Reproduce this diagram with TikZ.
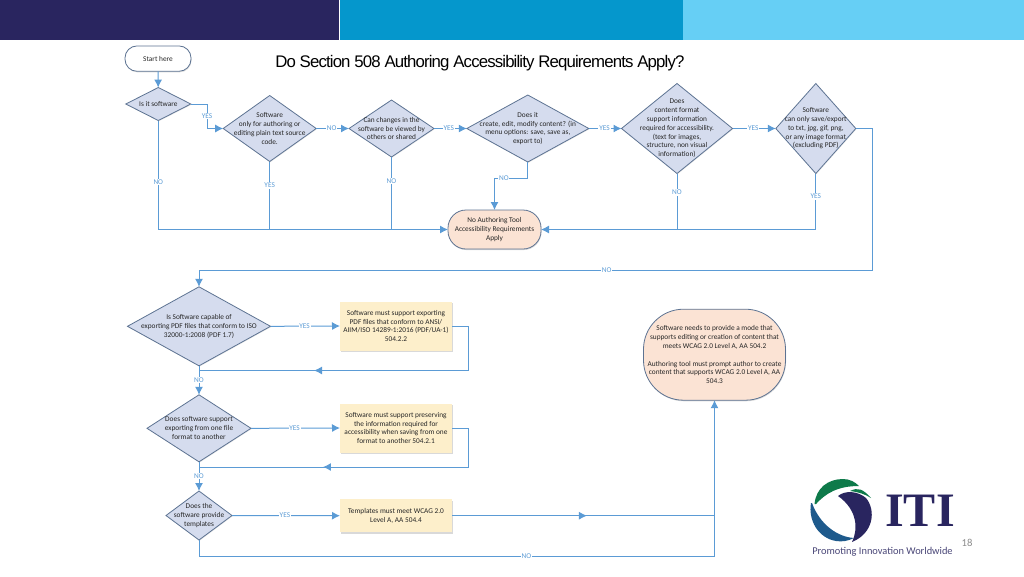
\documentclass[tikz,border=0pt]{standalone}
\usepackage{fontspec}
\setmainfont{Carlito}
\newfontfamily\titlefont[LetterSpace=-5.1]{Liberation Sans}
\newfontfamily\itifont{Liberation Serif}
\usetikzlibrary{shapes.geometric,shadows,arrows.meta,decorations.markings}
\definecolor{flowline}{HTML}{5B9BD5}
\definecolor{flowedge}{HTML}{5D7392}
\definecolor{flowfill}{HTML}{D5DCEE}
\definecolor{notefill}{HTML}{FDEFCB}
\definecolor{endfill}{HTML}{FBE3D4}
\definecolor{itinavy}{HTML}{29255F}
\definecolor{barmid}{HTML}{0597CC}
\definecolor{barlight}{HTML}{66CFF5}
\definecolor{itigreen}{HTML}{0E7A4A}
\definecolor{itiblue}{HTML}{1E5A8C}
\tikzset{
	conn/.style={draw=flowline,line width=0.75pt},
	arr/.style={conn,-{Latex[length=6pt,width=6pt]}},
	midarr/.style={conn,postaction={decorate},decoration={markings,mark=at position #1 with {\arrow{Latex[length=6pt,width=6pt]}}}},
	lab/.style={fill=white,inner sep=0.6pt,text=flowline,font=\fontsize{5.5}{6.6}\selectfont},
	txt/.style={align=center,inner sep=0pt,text=black!85,font=\fontsize{5.5}{6.6}\selectfont},
	decision/.style={diamond,draw=flowedge,fill=flowfill,line width=0.6pt,inner sep=0pt,outer sep=0pt,drop shadow={shadow xshift=0.4pt,shadow yshift=-0.6pt,opacity=0.2}},
	notebox/.style={rectangle,fill=notefill,inner sep=0pt,outer sep=0pt,txt,drop shadow={shadow xshift=0.4pt,shadow yshift=-1pt,opacity=0.3}},
	endbox/.style={rectangle,draw=flowedge,fill=endfill,line width=0.6pt,inner sep=0pt,outer sep=0pt,txt,drop shadow={shadow xshift=0.4pt,shadow yshift=-0.8pt,opacity=0.3}},
}
\begin{document}
\begin{tikzpicture}[x=0.75pt,y=-0.75pt]
	\useasboundingbox (0,0) rectangle (1024,576);
	% top bar
	\fill[itinavy] (0,0) rectangle (339,40);
	\fill[barmid] (339.5,0) rectangle (683,40);
	\fill[barlight] (683,0) rectangle (1024,40);
	\node[anchor=west,inner sep=0pt,font=\titlefont\fontsize{12.6}{14}\selectfont] (title) at (275,63.5) {Do Section 508 Authoring Accessibility Requirements Apply?};
	% upper row
	\node[endbox,fill=white,rounded corners=9pt,minimum width=49.5pt,minimum height=19pt] (start) at (158,58.6) {Start here};
	\node[decision,minimum width=48.75pt,minimum height=24.75pt,label={[txt]center:Is it software}] (soft) at (158.3,104) {};
	\node[decision,minimum width=69.75pt,minimum height=49.5pt,label={[txt]center:Software\\only for authoring or\\editing plain text source\\code.}] (plain) at (269.7,128.5) {};
	\node[decision,minimum width=63.75pt,minimum height=42.75pt,label={[txt]center:Can changes in the\\software be viewed by\\others or shared}] (view) at (391.5,128.5) {};
	\node[decision,minimum width=91.5pt,minimum height=50.25pt,label={[txt]center:Does it\\create, edit, modify content? (in\\menu options: save, save as,\\export to)}] (edit) at (527.8,128.5) {};
	\node[decision,minimum width=83.25pt,minimum height=67.5pt,label={[txt]center:Does\\content format\\support information\\required for accessibility.\\(text for images,\\structure, non visual\\information)}] (format) at (677,128.5) {};
	\node[decision,minimum width=60pt,minimum height=67.5pt,label={[txt]center:Software\\can only save/export\\to txt, jpg, gif, png,\\or any image format\\(excluding PDF)}] (image) at (815.8,128.5) {};
	\node[endbox,rounded corners=13.5pt,minimum width=69.75pt,minimum height=29.25pt] (noreq) at (494.5,229.5) {No Authoring Tool\\Accessibility Requirements\\Apply};
	% lower rows
	\node[decision,minimum width=107.25pt,minimum height=59.25pt,label={[txt]center:Is Software capable of\\exporting PDF files that conform to ISO\\32000-1:2008 (PDF 1.7)}] (pdf) at (199,326.3) {};
	\node[decision,minimum width=78pt,minimum height=50.25pt,label={[txt]center:Does software support\\exporting from one file\\format to another}] (export) at (199,428.3) {};
	\node[decision,minimum width=49.5pt,minimum height=36.75pt,label={[txt]center:Does the\\software provide\\templates}] (templ) at (199,515.5) {};
	\node[notebox,minimum width=84pt,minimum height=36.75pt] (mustpdf) at (396,326) {Software must support exporting\\PDF files that conform to ANSI/\\AIIM/ISO 14289-1:2016 (PDF/UA-1)\\504.2.2};
	\node[notebox,minimum width=84pt,minimum height=36.75pt] (mustkeep) at (396,428) {Software must support preserving\\the information required for\\accessibility when saving from one\\format to another 504.2.1};
	\node[notebox,minimum width=84pt,minimum height=24.75pt] (musttempl) at (396,515.7) {Templates must meet WCAG 2.0\\Level A, AA 504.4};
	\node[endbox,rounded corners=30pt,minimum width=106.5pt,minimum height=68.25pt] (mode) at (714.5,354.7) {Software needs to provide a mode that\\supports editing or creation of content that\\meets WCAG 2.0 Level A, AA 504.2\\[6.6pt]Authoring tool must prompt author to create\\content that supports WCAG 2.0 Level A, AA\\504.3};
	% free ends of the connectors
	\coordinate (softbend) at (207,104);
	\coordinate (softdrop) at (207,128.5);
	\coordinate (editbend) at (527.8,178);
	\coordinate (editdrop) at (494.5,178);
	\coordinate (imgturn) at (872.7,128.5);
	\coordinate (imgdown) at (872.7,270);
	\coordinate (imgback) at (199,270);
	\coordinate (pdfturn) at (468.5,326);
	\coordinate (pdfdown) at (468.5,370.5);
	\coordinate (pdfback) at (199,370.5);
	\coordinate (keepturn) at (468.5,428);
	\coordinate (keepdown) at (468.5,467);
	\coordinate (keepback) at (199,467);
	\coordinate (templturn) at (199,556.5);
	\coordinate (templend) at (714.5,556.5);
	\coordinate (mustend) at (714.5,515.7);
	% connectors
	\draw[arr] (start) -- (soft);
	\draw[arr] (soft.east) -- (softbend) -- node[lab]{YES} (softdrop) -- (plain.west);
	\draw[arr] (soft.south) -- node[lab,pos=0.564]{NO} (soft.south |- noreq.west) -- (noreq.west);
	\draw[conn] (plain.south) -- node[lab,pos=0.35]{YES} (plain.south |- noreq.west);
	\draw[conn] (view.south) -- node[lab,pos=0.33]{NO} (view.south |- noreq.west);
	\draw[arr] (plain.east) -- node[lab,pos=0.47]{NO} (view.west);
	\draw[arr] (view.east) -- node[lab,pos=0.45]{YES} (edit.west);
	\draw[arr] (edit.east) -- node[lab,pos=0.48]{YES} (format.west);
	\draw[arr] (format.east) -- node[lab,pos=0.48]{YES} (image.west);
	\draw[arr] (edit.south) -- (editbend) -- node[lab,pos=0.72]{NO} (editdrop) -- (noreq.north);
	\draw[arr] (format.south) -- node[lab,pos=0.34]{NO} (format.south |- noreq.east) -- (noreq.east);
	\draw[conn] (image.south) -- node[lab,pos=0.41]{YES} (image.south |- noreq.east) -- (format.south |- noreq.east);
	\draw[arr] (image.east) -- (imgturn) -- (imgdown) -- node[lab,pos=0.395]{NO} (imgback) -- (pdf.north);
	\draw[arr] (pdf.east) -- node[lab,pos=0.49]{YES} (mustpdf.west);
	\draw[arr] (export.east) -- node[lab,pos=0.49]{YES} (mustkeep.west);
	\draw[arr] (templ.east) -- node[lab,pos=0.49]{YES} (musttempl.west);
	\draw[midarr=0.652] (mustpdf.east) -- (pdfturn) -- (pdfdown) -- (pdfback);
	\draw[midarr=0.6185] (mustkeep.east) -- (keepturn) -- (keepdown) -- (keepback);
	\draw[arr] (pdf.south) -- node[lab,pos=0.48]{NO} (export.north);
	\draw[arr] (export.south) -- node[lab,pos=0.48]{NO} (templ.north);
	\draw[midarr=0.514] (musttempl.east) -- (mustend);
	\draw[arr] (templ.south) -- (templturn) -- node[lab,pos=0.635]{NO} (templend) -- (mode.south);
	% logo
	\fill[itigreen] (814.5,504) .. controls (816,488) and (828,479) .. (843,479) .. controls (850,479) and (855,482) .. (859,486) .. controls (838,486) and (826,493) .. (816,504) -- cycle;
	\fill[itigreen] (850,491) .. controls (858,487) and (863,489) .. (871,498) .. controls (865,494) and (858,492) .. (850,491) -- cycle;
	\fill[itiblue] (811,503) .. controls (808,520) and (818,538) .. (836,541) .. controls (842,542) and (848,541) .. (854,538) .. controls (838,537) and (820,525) .. (812,503) -- cycle;
	\fill[itinavy] (838,496) .. controls (845,490) and (858,491) .. (866,498) .. controls (876,510) and (874,533) .. (852,542) .. controls (858,530) and (858,510) .. (838,496) -- cycle;
	\node[inner sep=0pt,text=itinavy,font=\itifont\bfseries\fontsize{36}{36}\selectfont] (itimark) at (920,511) {ITI};
	\node[inner sep=0pt,text=itinavy!85,font=\fontsize{7.8}{9}\selectfont] (slogan) at (882.5,552) {Promoting Innovation Worldwide};
	\node[inner sep=0pt,text=black!45,font=\fontsize{8}{9}\selectfont] (pageno) at (967,543) {18};
\end{tikzpicture}
\end{document}
